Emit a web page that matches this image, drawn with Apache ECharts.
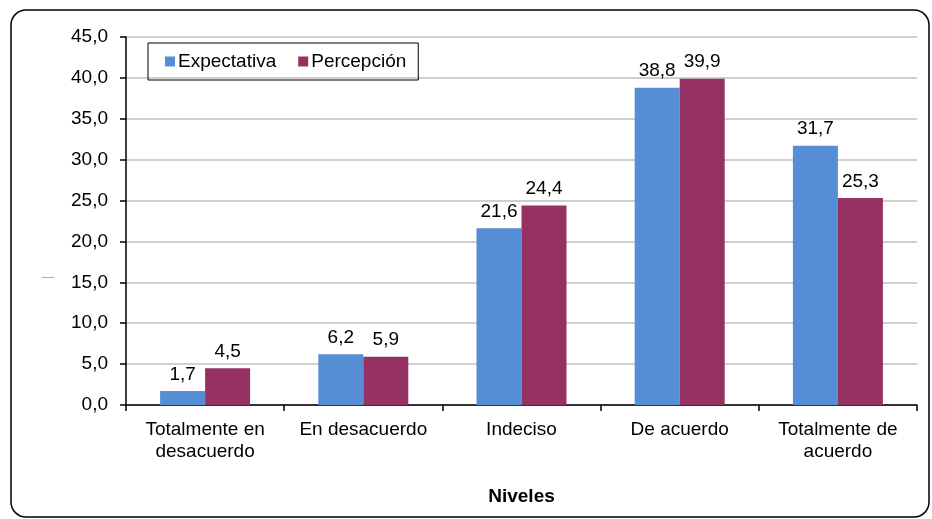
<!DOCTYPE html>
<html>
<head>
<meta charset="utf-8">
<script src="https://cdn.jsdelivr.net/npm/echarts@6/dist/echarts.min.js"></script>
<style>
  html, body { margin: 0; padding: 0; background: #ffffff; }
  #chart { width: 932px; height: 519px; }
</style>
</head>
<body>
<div id="chart"></div>
<script>
// Survey levels and the two compared series (percentages)
const categories = ['Totalmente en\ndesacuerdo', 'En desacuerdo', 'Indeciso', 'De acuerdo', 'Totalmente de\nacuerdo'];
const expectativa = [1.7, 6.2, 21.6, 38.8, 31.7];
const percepcion = [4.5, 5.9, 24.4, 39.9, 25.3];
const seriesNames = ['Expectativa', 'Percepción'];
const axisTitle = 'Niveles';

const FONT = '"Liberation Sans", Arial, sans-serif';
const FS = 19;
const comma = v => v.toFixed(1).replace('.', ',');

const chart = echarts.init(document.getElementById('chart'), null, { renderer: 'canvas' });

const labelStyle = {
  show: true,
  position: 'top',
  distance: 7,
  color: '#000',
  fontFamily: FONT,
  fontSize: FS,
  formatter: p => comma(p.value)
};

chart.setOption({
  animation: false,
  backgroundColor: '#ffffff',
  textStyle: { fontFamily: FONT },
  graphic: [
    {
      type: 'rect',
      shape: { x: 11, y: 10, width: 918, height: 507, r: 15 },
      style: { fill: 'none', stroke: '#000', lineWidth: 1.5 },
      z: -1
    },
    {
      type: 'text',
      left: 42,
      top: 272,
      style: { text: '—', fontSize: 12, fill: '#a0a0a0', fontFamily: FONT }
    }
  ],
  legend: {
    left: 148,
    top: 43,
    orient: 'horizontal',
    padding: [9, 12, 9, 17],
    itemGap: 22,
    itemWidth: 10,
    itemHeight: 10,
    borderColor: '#000',
    borderWidth: 1,
    icon: 'rect',
    textStyle: { fontFamily: FONT, fontSize: FS, color: '#000', padding: [0, 0, 0, -2] },
    data: seriesNames
  },
  grid: { left: 126, top: 37, right: 15, bottom: 114, containLabel: false },
  xAxis: {
    type: 'category',
    data: categories,
    name: axisTitle,
    nameLocation: 'middle',
    nameGap: 82,
    nameTextStyle: { fontFamily: FONT, fontSize: FS, fontWeight: 'bold', color: '#000' },
    axisLine: { lineStyle: { color: '#000', width: 1.5 } },
    axisTick: { show: true, length: 6, lineStyle: { color: '#000', width: 1.5 } },
    axisLabel: { color: '#000', fontFamily: FONT, fontSize: FS, margin: 14, lineHeight: 22, interval: 0 }
  },
  yAxis: {
    type: 'value',
    min: 0,
    max: 45,
    interval: 5,
    axisLine: { show: true, lineStyle: { color: '#000', width: 1.5 } },
    axisTick: { show: true, length: 6, lineStyle: { color: '#000', width: 1.5 } },
    axisLabel: { color: '#000', fontFamily: FONT, fontSize: FS, margin: 18, formatter: v => comma(v) },
    splitLine: { show: true, lineStyle: { color: '#bfbfbf', width: 1.5 } }
  },
  series: [
    {
      name: seriesNames[0],
      type: 'bar',
      data: expectativa,
      barWidth: 45,
      barGap: '0%',
      itemStyle: { color: '#558ed5' },
      label: labelStyle
    },
    {
      name: seriesNames[1],
      type: 'bar',
      data: percepcion,
      barWidth: 45,
      itemStyle: { color: '#953163' },
      label: labelStyle
    }
  ]
});
</script>
</body>
</html>
